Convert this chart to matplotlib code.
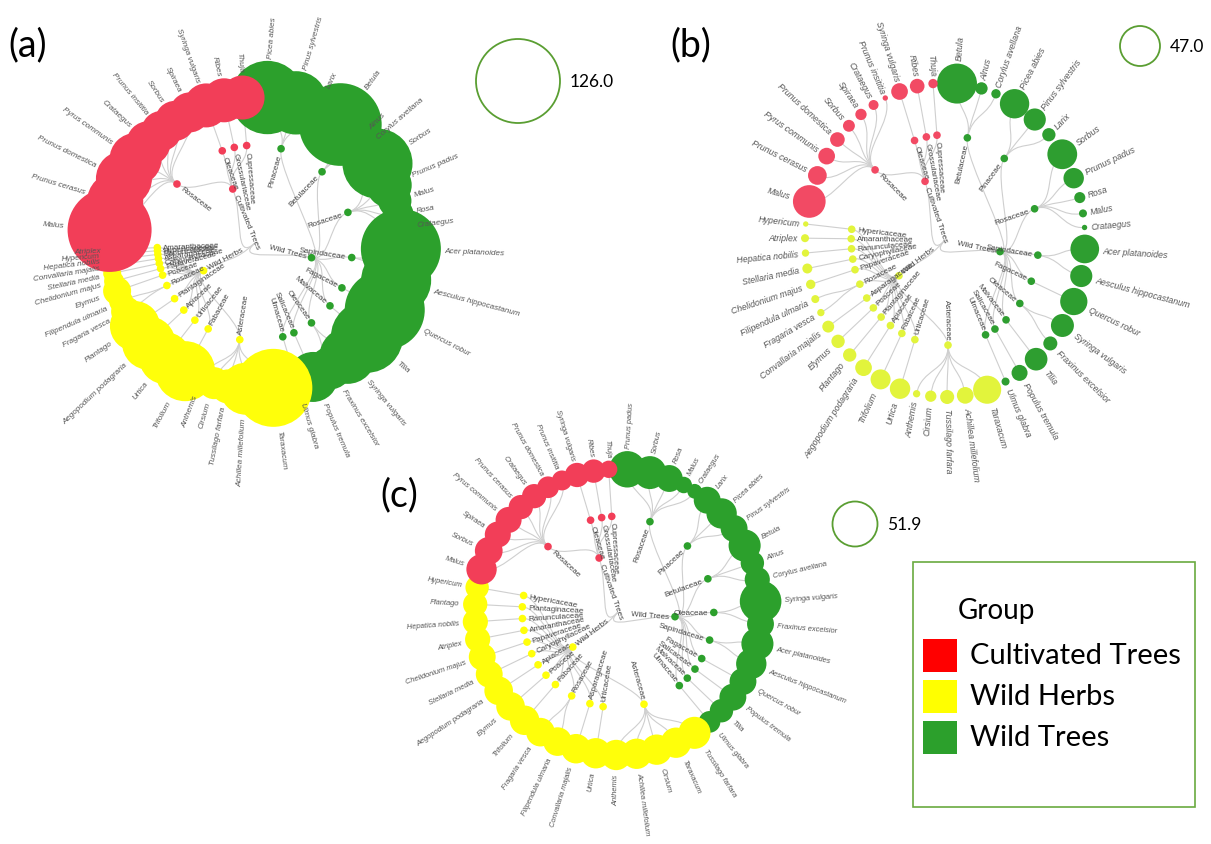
import numpy as np
import matplotlib
matplotlib.use('Agg')
import matplotlib.pyplot as plt
from matplotlib.patches import Circle, Rectangle, PathPatch
from matplotlib.path import Path

# ---------------- DATA ----------------
GROUP_NAMES = {"WT": "Wild Trees", "WH": "Wild Herbs", "CT": "Cultivated Trees"}

# Panel (a)
a_genus = ["Picea abies", "Pinus sylvestris", "Larix", "Betula", "Alnus", "Corylus avellana",
           "Sorbus", "Prunus padus", "Malus", "Rosa", "Crataegus", "Acer platanoides",
           "Aesculus hippocastanum", "Quercus robur", "Tilia", "Syringa vulgaris",
           "Fraxinus excelsior", "Populus tremula", "Ulmus glabra",
           "Taraxacum", "Achillea millefolium", "Tussilago farfara", "Cirsium", "Anthemis",
           "Trifolium", "Urtica", "Aegopodium podagraria", "Plantago", "Fragaria vesca",
           "Filipendula ulmaria", "Elymus", "Chelidonium majus", "Stellaria media",
           "Convallaria majalis", "Hepatica nobilis", "Hypericum", "Atriplex",
           "Malus", "Prunus cerasus", "Prunus domestica", "Pyrus communis", "Crataegus",
           "Prunus insititia", "Sorbus", "Spiraea", "Syringa vulgaris", "Ribes", "Thuja"]
a_family = ["Pinaceae", "Pinaceae", "Pinaceae", "Betulaceae", "Betulaceae", "Betulaceae",
            "Rosaceae", "Rosaceae", "Rosaceae", "Rosaceae", "Rosaceae", "Sapindaceae",
            "Sapindaceae", "Fagaceae", "Malvaceae", "Oleaceae", "Oleaceae", "Salicaceae", "Ulmaceae",
            "Asteraceae", "Asteraceae", "Asteraceae", "Asteraceae", "Asteraceae",
            "Fabaceae", "Urticaceae", "Apiaceae", "Plantaginaceae", "Rosaceae", "Rosaceae",
            "Poaceae", "Papaveraceae", "Caryophyllaceae", "Asparagaceae", "Ranunculaceae",
            "Hypericaceae", "Amaranthaceae",
            "Rosaceae", "Rosaceae", "Rosaceae", "Rosaceae", "Rosaceae", "Rosaceae", "Rosaceae",
            "Rosaceae", "Oleaceae", "Grossulariaceae", "Cupressaceae"]
a_group = ["WT"] * 19 + ["WH"] * 18 + ["CT"] * 11
a_value = [110, 95, 66, 124, 40, 37, 105, 68, 50, 46, 41, 120, 105, 120, 108, 84, 64, 75, 50,
           117, 78, 51, 48, 42, 90, 78, 80, 75, 45, 36, 42, 30, 27, 24, 21, 18, 15,
           126, 84, 84, 78, 66, 60, 60, 60, 66, 66, 66]
a_legend = 126.0

# Panel (b)
b_genus = ["Betula", "Alnus", "Corylus avellana", "Picea abies", "Pinus sylvestris", "Larix",
           "Sorbus", "Prunus padus", "Rosa", "Malus", "Crataegus", "Acer platanoides",
           "Aesculus hippocastanum", "Quercus robur", "Syringa vulgaris", "Fraxinus excelsior",
           "Tilia", "Populus tremula", "Ulmus glabra",
           "Taraxacum", "Achillea millefolium", "Tussilago farfara", "Cirsium", "Anthemis",
           "Urtica", "Trifolium", "Aegopodium podagraria", "Plantago", "Elymus",
           "Convallaria majalis", "Fragaria vesca", "Filipendula ulmaria", "Chelidonium majus",
           "Stellaria media", "Hepatica nobilis", "Atriplex", "Hypericum",
           "Malus", "Prunus cerasus", "Pyrus communis", "Prunus domestica", "Sorbus", "Spiraea",
           "Crataegus", "Prunus insititia", "Syringa vulgaris", "Ribes", "Thuja"]
b_family = ["Betulaceae", "Betulaceae", "Betulaceae", "Pinaceae", "Pinaceae", "Pinaceae",
            "Rosaceae", "Rosaceae", "Rosaceae", "Rosaceae", "Rosaceae", "Sapindaceae",
            "Sapindaceae", "Fagaceae", "Oleaceae", "Oleaceae", "Malvaceae", "Salicaceae", "Ulmaceae",
            "Asteraceae", "Asteraceae", "Asteraceae", "Asteraceae", "Asteraceae",
            "Urticaceae", "Fabaceae", "Apiaceae", "Plantaginaceae", "Poaceae", "Asparagaceae",
            "Rosaceae", "Rosaceae", "Papaveraceae", "Caryophyllaceae", "Ranunculaceae",
            "Amaranthaceae", "Hypericaceae",
            "Rosaceae", "Rosaceae", "Rosaceae", "Rosaceae", "Rosaceae", "Rosaceae", "Rosaceae",
            "Rosaceae", "Oleaceae", "Grossulariaceae", "Cupressaceae"]
b_group = ["WT"] * 19 + ["WH"] * 18 + ["CT"] * 11
b_value = [47, 14.5, 11, 34.5, 26, 15.6, 35, 24, 13, 9.4, 6.3, 33.7, 26, 32, 27, 16.5, 26.6, 18.8, 9.4,
           33, 19.6, 16.5, 13.3, 8.6, 24, 23.5, 19.6, 15.7, 15.7, 14, 8.6, 9.4, 11, 11.7, 8.6, 9.4, 6.3,
           38.4, 22, 19.6, 17.2, 14, 13.3, 11.7, 6.3, 19.6, 17.2, 11]
b_legend = 47.0

# Panel (c)
c_genus = ["Prunus padus", "Sorbus", "Rosa", "Malus", "Crataegus", "Larix", "Picea abies",
           "Pinus sylvestris", "Betula", "Alnus", "Corylus avellana", "Syringa vulgaris",
           "Fraxinus excelsior", "Acer platanoides", "Aesculus hippocastanum", "Quercus robur",
           "Populus tremula", "Tilia", "Ulmus glabra",
           "Tussilago farfara", "Taraxacum", "Cirsium", "Achillea millefolium", "Anthemis",
           "Urtica", "Convallaria majalis", "Filipendula ulmaria", "Fragaria vesca", "Trifolium",
           "Elymus", "Aegopodium podagraria", "Stellaria media", "Chelidonium majus", "Atriplex",
           "Hepatica nobilis", "Plantago", "Hypericum",
           "Malus", "Sorbus", "Spiraea", "Pyrus communis", "Prunus cerasus", "Crataegus",
           "Prunus domestica", "Prunus insititia", "Syringa vulgaris", "Ribes", "Thuja"]
c_family = ["Rosaceae", "Rosaceae", "Rosaceae", "Rosaceae", "Rosaceae", "Pinaceae", "Pinaceae",
            "Pinaceae", "Betulaceae", "Betulaceae", "Betulaceae", "Oleaceae", "Oleaceae",
            "Sapindaceae", "Sapindaceae", "Fagaceae", "Salicaceae", "Malvaceae", "Ulmaceae",
            "Asteraceae", "Asteraceae", "Asteraceae", "Asteraceae", "Asteraceae",
            "Urticaceae", "Asparagaceae", "Rosaceae", "Rosaceae", "Fabaceae", "Poaceae",
            "Apiaceae", "Caryophyllaceae", "Papaveraceae", "Amaranthaceae", "Ranunculaceae",
            "Plantaginaceae", "Hypericaceae",
            "Rosaceae", "Rosaceae", "Rosaceae", "Rosaceae", "Rosaceae", "Rosaceae", "Rosaceae",
            "Rosaceae", "Oleaceae", "Grossulariaceae", "Cupressaceae"]
c_group = ["WT"] * 19 + ["WH"] * 18 + ["CT"] * 11
c_value = [42, 38, 31, 19, 17, 31, 35, 31, 37, 27, 29, 48, 31, 37, 35, 31, 31, 27, 25,
           37, 35, 35, 35, 35, 35, 34, 33, 33, 34, 33, 33, 31, 31, 29, 29, 28, 27,
           35, 32, 30, 30, 28, 28, 25, 23, 28, 27, 20]
c_legend = 51.9

legend_groups = ["Cultivated Trees", "Wild Herbs", "Wild Trees"]
legend_colors = ["#FF0000", "#FFFF00", "#2CA02C"]

# ---------------- FIGURE ----------------
W, H = 1211, 845
fig = plt.figure(figsize=(W / 100, H / 100), dpi=100)
ax = fig.add_axes([0, 0, 1, 1])
ax.set_xlim(0, W)
ax.set_ylim(H, 0)
ax.set_aspect('equal')
ax.axis('off')

LABEL_FONT = 'Liberation Sans'
TITLE_FONT = 'Lato'


def draw_panel(genus, family, group, value, cx, cy, rx, ry, scale, base, colors,
               legend_value, legend_xy, letter, letter_xy, leaf_fs=5.6, node_r=3.8,
               rho_group=0.40, rho_family=0.67):
    rad = np.asarray(value, float) * scale
    seps = rad + np.roll(rad, -1) + base
    pos = np.concatenate([[seps[-1] / 2], seps[:-1]]).cumsum()
    theta = pos / seps.sum() * 2 * np.pi

    def P(th, rho):
        return cx + rx * rho * np.sin(th), cy - ry * rho * np.cos(th)

    fam_keys = []
    for g, f in zip(group, family):
        if (g, f) not in fam_keys:
            fam_keys.append((g, f))
    fam_theta = {k: np.mean([theta[i] for i in range(len(genus)) if (group[i], family[i]) == k])
                 for k in fam_keys}
    grp_keys = []
    for g in group:
        if g not in grp_keys:
            grp_keys.append(g)
    grp_theta = {g: np.mean([fam_theta[k] for k in fam_keys if k[0] == g]) for g in grp_keys}
    root_theta = np.mean(list(grp_theta.values()))

    def link(th0, r0, th1, r1):
        rm = (r0 + r1) / 2
        pts = [P(th0, r0), P(th0, rm), P(th1, rm), P(th1, r1)]
        path = Path(pts, [Path.MOVETO, Path.CURVE4, Path.CURVE4, Path.CURVE4])
        ax.add_patch(PathPatch(path, fc='none', ec='#cfcfcf', lw=0.8, zorder=1))

    for g in grp_keys:
        link(root_theta, 0.0, grp_theta[g], rho_group)
    for k in fam_keys:
        link(grp_theta[k[0]], rho_group, fam_theta[k], rho_family)
    for i in range(len(genus)):
        k = (group[i], family[i])
        link(fam_theta[k], rho_family, theta[i], 1.0)

    def radial_text(x, y, offset, text, inward, **kw):
        dx, dy = x - cx, y - cy
        d = np.hypot(dx, dy)
        ux, uy = dx / d, dy / d
        phi = np.degrees(np.arctan2(-uy, ux))
        right = ux >= 0
        if inward:
            tx, ty = x - ux * offset, y - uy * offset
            ha = 'right' if right else 'left'
        else:
            tx, ty = x + ux * offset, y + uy * offset
            ha = 'left' if right else 'right'
        rot = phi if right else phi + 180
        ax.text(tx, ty, text, rotation=rot, rotation_mode='anchor', ha=ha, va='center',
                zorder=5, **kw)

    for g in grp_keys:
        x, y = P(grp_theta[g], rho_group)
        ax.add_patch(Circle((x, y), node_r, color=colors[g], zorder=3, lw=0))
        radial_text(x, y, node_r + 2, GROUP_NAMES[g], True, fontsize=5.8,
                    color='#444444', family=LABEL_FONT)
    for k in fam_keys:
        x, y = P(fam_theta[k], rho_family)
        ax.add_patch(Circle((x, y), node_r, color=colors[k[0]], zorder=3, lw=0))
        radial_text(x, y, node_r + 2, k[1], True, fontsize=5.8,
                    color='#444444', family=LABEL_FONT)
    for i in range(len(genus)):
        x, y = P(theta[i], 1.0)
        ax.add_patch(Circle((x, y), rad[i], color=colors[group[i]], zorder=3, lw=0))
    for i in range(len(genus)):
        x, y = P(theta[i], 1.0)
        radial_text(x, y, rad[i] + 3.5, genus[i], False, fontsize=leaf_fs, style='italic',
                    color='#555555', family=LABEL_FONT)

    lr = legend_value * scale
    ax.add_patch(Circle(legend_xy, lr, fc='none', ec='#5A9E32', lw=1.3, zorder=4))
    ax.text(legend_xy[0] + lr + 10, legend_xy[1], f"{legend_value:.1f}", ha='left', va='center',
            fontsize=12.5, family=TITLE_FONT, color='black')
    ax.text(letter_xy[0], letter_xy[1], letter, ha='left', va='center', fontsize=27,
            family=TITLE_FONT, color='black')


col_a = {"WT": "#2CA02C", "WH": "#FFFF0A", "CT": "#F23E58"}
col_b = {"WT": "#2E9E30", "WH": "#E2F43C", "CT": "#F24A64"}
col_c = {"WT": "#2CA02C", "WH": "#FFFF0A", "CT": "#F23E58"}

draw_panel(a_genus, a_family, a_group, a_value, 255, 244, 146, 146, 42 / 126, 0.0, col_a,
           a_legend, (518, 82), "(a)", (8, 45), leaf_fs=5.8)
draw_panel(b_genus, b_family, b_group, b_value, 945, 241, 140, 157, 20 / 47, 13.5, col_b,
           b_legend, (1140, 47), "(b)", (670, 45), leaf_fs=6.3)
draw_panel(c_genus, c_family, c_group, c_value, 618, 613, 143, 143, 22.5 / 51.9, 8.0, col_c,
           c_legend, (855, 525), "(c)", (380, 495), leaf_fs=5.4)

# group legend box
ax.add_patch(Rectangle((913, 563), 282, 245, fc='none', ec='#6AAA3F', lw=1.2, zorder=6))
ax.text(958, 611, "Group", ha='left', va='center', fontsize=20, family=TITLE_FONT)
for j, (lab, colr) in enumerate(zip(legend_groups, legend_colors)):
    yc = 656 + j * 41
    ax.add_patch(Rectangle((923, yc - 16), 34, 33, fc=colr, ec='none', zorder=6))
    ax.text(970, yc, lab, ha='left', va='center', fontsize=21, family=TITLE_FONT)

fig.savefig("out.png", dpi=100)
